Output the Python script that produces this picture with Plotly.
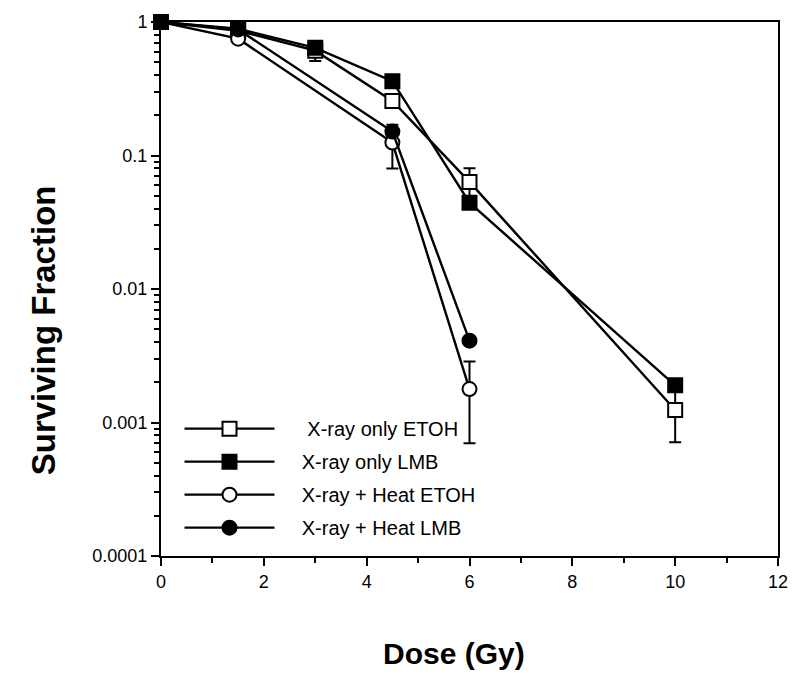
import plotly.graph_objects as go

# Data
dose_sq = [0, 1.5, 3, 4.5, 6, 10]
etoh_sq = [1.0, 0.86, 0.61, 0.256, 0.0634, 0.00124]
etoh_sq_err = [0, 0, 0.10, 0, 0.017, 0.00053]
lmb_sq = [1.0, 0.89, 0.64, 0.36, 0.0443, 0.0019]

dose_ci = [0, 1.5, 4.5, 6]
heat_etoh = [1.0, 0.75, 0.125, 0.00178]
heat_etoh_err = [0, 0, 0.045, 0.00108]
heat_lmb = [1.0, 0.88, 0.151, 0.0041]

names = ["X-ray only ETOH", "X-ray only LMB", "X-ray + Heat ETOH", "X-ray + Heat LMB"]
ytick_vals = [1, 0.1, 0.01, 0.001, 0.0001]
ytick_text = ["1", "0.1", "0.01", "0.001", "0.0001"]

FONT = "Liberation Sans, Arial, sans-serif"
fig = go.Figure()
PAD = "\u00a0" * 4

def add(x, y, name, symbol, fill, err=None, pad=PAD):
    kw = {}
    if err is not None:
        kw["error_y"] = dict(type="data", array=err, arrayminus=err, symmetric=False,
                             color="black", thickness=2, width=6)
    fig.add_trace(go.Scatter(
        x=x, y=y, name=pad + name, legendgroup=name, mode="lines+markers", cliponaxis=False,
        line=dict(color="black", width=2.4),
        marker=dict(symbol=symbol, size=14, color=fill, line=dict(color="black", width=2)),
        **kw))

add(dose_sq, etoh_sq, names[0], "square", "white", etoh_sq_err, pad=PAD + "\u00a0")
add(dose_sq, lmb_sq, names[1], "square", "black")
add(dose_ci, heat_etoh, names[2], "circle", "white", heat_etoh_err)
add(dose_ci, heat_lmb, names[3], "circle", "black")

fig.update_layout(
    width=800, height=681,
    margin=dict(l=161, r=17, t=15, b=125),
    paper_bgcolor="white", plot_bgcolor="white",
    font=dict(family=FONT, size=18, color="black"),
    showlegend=True,
    legend=dict(x=0.03, y=0.275, xanchor="left", yanchor="top",
                bgcolor="rgba(0,0,0,0)", font=dict(size=20),
                itemwidth=90, tracegroupgap=4),
    xaxis=dict(range=[0, 12], tickmode="linear", tick0=0, dtick=2,
               ticks="outside", ticklen=8, tickwidth=2, tickcolor="black",
               showline=True, linewidth=2, linecolor="black", mirror=True,
               showgrid=False, zeroline=False,
               minor=dict(tickmode="linear", dtick=1, ticks="outside", ticklen=5,
                          tickwidth=2, tickcolor="black", showgrid=False)),
    yaxis=dict(type="log", range=[-4, 0], tickmode="array",
               tickvals=ytick_vals, ticktext=ytick_text,
               ticks="outside", ticklen=8, tickwidth=2, tickcolor="black",
               showline=True, linewidth=2, linecolor="black", mirror=True,
               showgrid=False, zeroline=False,
               minor=dict(dtick="D1", ticks="outside", ticklen=5, tickwidth=1.5,
                          tickcolor="black", showgrid=False)),
    annotations=[
        dict(text="<b>Dose (Gy)</b>", xref="paper", yref="paper", x=0.475, y=-0.183,
             xanchor="center", yanchor="middle", showarrow=False,
             font=dict(size=30, family=FONT)),
        dict(text="<b>Surviving Fraction</b>", xref="paper", yref="paper", x=-0.191, y=0.423,
             xanchor="center", yanchor="middle", showarrow=False, textangle=-90,
             font=dict(size=33, family=FONT)),
    ],
)

fig.write_html("out.html", config={"displayModeBar": False},
               post_script="document.body.style.margin='0';")
